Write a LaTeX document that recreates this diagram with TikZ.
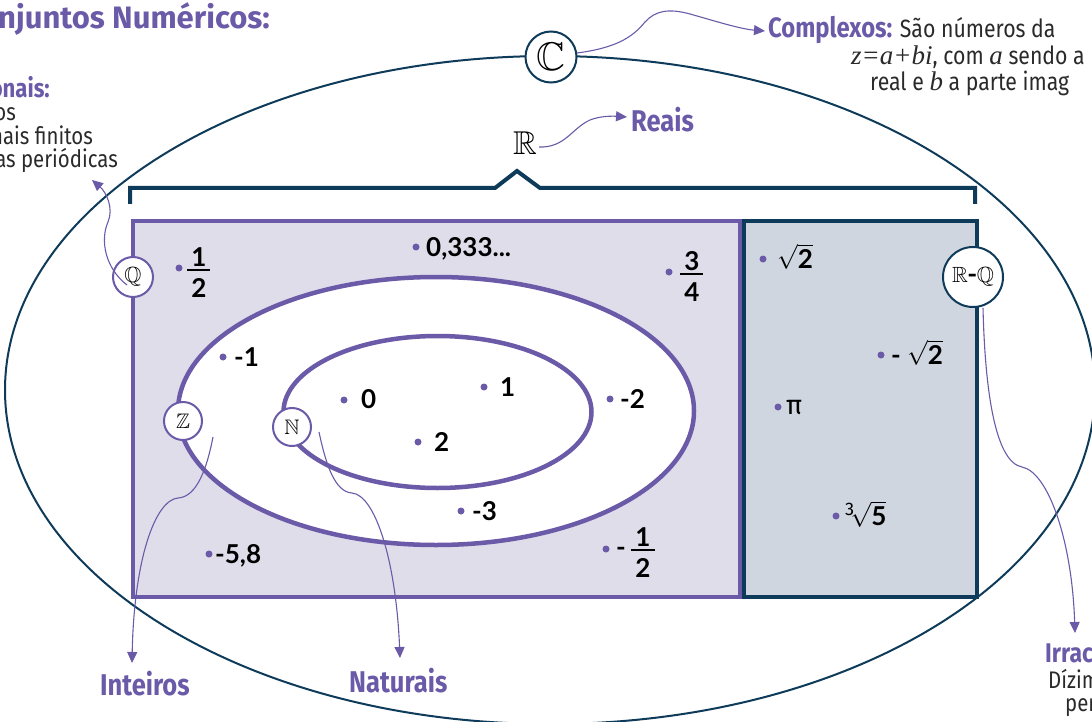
\documentclass[tikz,border=0pt]{standalone}
\usepackage{fontspec}
\usepackage{amsmath,amssymb}
\setmainfont{Fira Sans}
\newfontfamily\numfont{Lato}
\newfontfamily\condfont{Fira Sans}[FakeStretch=0.85]
\newfontfamily\serifit{Liberation Serif}
\usetikzlibrary{arrows.meta}
\definecolor{pur}{HTML}{6A5AA8}
\definecolor{navy}{HTML}{0F3B5A}
\definecolor{lav}{HTML}{DFDDEA}
\definecolor{bluegray}{HTML}{CFD6DF}
\definecolor{txt}{HTML}{2A2A2A}
\newcommand\fsz[1]{\fontsize{#1}{#1}\selectfont}
\newcommand\myfrac[2]{$\genfrac{}{}{2pt}{1}{\mbox{\hspace{4pt}#1\hspace{4pt}}}{\mbox{\rule{0pt}{25pt}#2}}$}
\begin{document}
\begin{tikzpicture}[x=1pt,y=-1pt,
  lbl/.style={inner sep=0pt,anchor=base west},
  lblr/.style={inner sep=0pt,anchor=base east},
  setring/.style={circle,draw=pur,line width=2pt,fill=white,inner sep=0pt},
  ptdot/.style={circle,fill=pur,inner sep=0pt,minimum size=7pt},
  numlbl/.style={inner sep=0pt,anchor=base west,font=\numfont\bfseries\fsz{26},text=black},
  callout/.style={draw=pur,line width=1.1pt,-{Triangle[length=11pt,width=10pt]}},
  ttl/.style={font=\bfseries\fsz{31},text=pur},
  headlbl/.style={font=\condfont\bfseries\fsz{30},text=pur},
  bodytxt/.style={font=\condfont\fsz{25},text=txt},
]
\useasboundingbox (0,0) rectangle (1092,722);
\clip (0,0) rectangle (1092,722);

% complex ellipse
\draw[navy,line width=2pt] (550,390) ellipse [x radius=545,y radius=334];

% bracket for R
\draw[navy,line width=4pt,line join=miter] (130,204) -- (130,188) -- (495,188) -- (517,171) -- (540,188) -- (975,188) -- (975,204);

% Q and R-Q regions
\draw[pur,line width=4pt,fill=lav] (133,221) rectangle (740,597);
\draw[navy,line width=4pt,fill=bluegray] (744,221) rectangle (977,597);

% Z and N ellipses
\draw[pur,line width=4.5pt,fill=white] (436,411) ellipse [x radius=258,y radius=134];
\draw[pur,line width=4.5pt,fill=white] (437.5,412) ellipse [x radius=154,y radius=76];

% points and numbers
\node[ptdot] (p1) at (179,268) {};
\node[numlbl] (t1) at (186,276) {\myfrac{1}{2}};
\node[ptdot] (p2) at (416,247) {};
\node[numlbl] (t2) at (426,256) {0,333...};
\node[ptdot] (p3) at (669,272) {};
\node[numlbl] (t3) at (679,280) {\myfrac{3}{4}};
\node[ptdot] (p4) at (223,357) {};
\node[numlbl] (t4) at (234,366) {-1};
\node[ptdot] (p5) at (344,400) {};
\node[numlbl] (t5) at (361,408) {0};
\node[ptdot] (p6) at (484,387) {};
\node[numlbl] (t6) at (500,396) {1};
\node[ptdot] (p7) at (418,442) {};
\node[numlbl] (t7) at (434,451) {2};
\node[ptdot] (p8) at (610,399) {};
\node[numlbl] (t8) at (620,408) {-2};
\node[ptdot] (p9) at (461,511) {};
\node[numlbl] (t9) at (472,520) {-3};
\node[ptdot] (p10) at (209,554) {};
\node[numlbl] (t10) at (215,563) {-5,8};
\node[ptdot] (p11) at (606,549) {};
\node[numlbl] (t11) at (616,556) {-\,\myfrac{1}{2}};
\node[ptdot] (p12) at (763,259) {};
\node[numlbl] (t12) at (777,268) {$\sqrt{\mbox{2}}$};
\node[ptdot] (p13) at (881,355) {};
\node[numlbl] (t13) at (891,364) {- $\sqrt{\mbox{2}}$};
\node[ptdot] (p14) at (778,407) {};
\node[numlbl,font=\fsz{27}] (t14) at (786,414) {π};
\node[ptdot] (p15) at (836,516) {};
\node[numlbl] (t15) at (845,525) {$^{\mathrm{3}}\!\sqrt{\mbox{5}}$};

% set symbols
\node[setring,draw=navy,minimum size=51pt] (C) at (551,57) {\fsz{40}$\mathbb{C}$};
\node[setring,minimum size=40pt] (Q) at (133,277) {\fsz{22}$\mathbb{Q}$};
\node[setring,minimum size=38pt] (Z) at (183,421) {\fsz{21}$\mathbb{Z}$};
\node[setring,minimum size=38pt] (N) at (292,427) {\fsz{21}$\mathbb{N}$};
\node[setring,draw=navy,minimum size=60pt] (RQ) at (973,277) {\fsz{22}$\mathbb{R}$\textbf{-}$\mathbb{Q}$};
\node[inner sep=0pt] (R) at (525,143) {\fsz{33}$\mathbb{R}$};

% texts
\node[lbl,ttl] (title) at (-2,29) {njuntos Numéricos:};
\node[lblr,font=\condfont\bfseries\fsz{26},text=pur] (rac) at (50,98) {onais:};
\node[lblr,bodytxt,font=\condfont\fsz{24}] (rac1) at (16,121) {os};
\node[lblr,bodytxt,font=\condfont\fsz{24}] (rac2) at (93,145) {nais finitos};
\node[lblr,bodytxt,font=\condfont\fsz{24}] (rac3) at (118,168) {as periódicas};
\node[lbl,bodytxt] (cx1) at (768,38) {{\fsz{28}\bfseries\color{pur}Complexos:} São números da};
\node[lbl,bodytxt] (cx2) at (851,65) {{\serifit\itshape\fsz{27}z=a+bi}, com {\serifit\itshape\fsz{27}a} sendo a};
\node[lbl,bodytxt] (cx3) at (870,91) {real e {\serifit\itshape\fsz{27}b} a parte imag};
\node[lbl,headlbl] (reais) at (631,132) {Reais};
\node[lbl,headlbl] (inteiros) at (100,695) {Inteiros};
\node[lbl,headlbl] (naturais) at (349,692) {Naturais};
\node[lbl,headlbl,font=\condfont\bfseries\fsz{27}] (irrac) at (1045,662) {Irrac};
\node[lbl,bodytxt,font=\condfont\fsz{24}] (irr1) at (1048,688) {Dízim};
\node[lbl,bodytxt,font=\condfont\fsz{24}] (irr2) at (1065,711) {per};

% callout arrows
\coordinate (cs) at (577,53);
\coordinate (ct) at (765,31);
\draw[callout] (cs) .. controls (615,48) and (632,38) .. (645,22) .. controls (655,11) and (668,8) .. (690,14) .. controls (715,21) and (740,29) .. (ct);
\coordinate (rs) at (539,147);
\coordinate (rt) at (627,117);
\draw[callout] (rs) .. controls (565,148) and (572,128) .. (590,120) .. controls (600,116) and (612,116) .. (rt);
\coordinate (qs) at (127,285);
\coordinate (qt) at (92,180);
\draw[callout] (qs) .. controls (105,268) and (100,240) .. (108,222) .. controls (114,208) and (106,192) .. (qt);
\coordinate (zs) at (213,437);
\coordinate (zt) at (132,663);
\draw[callout] (zs) .. controls (207,468) and (197,497) .. (178,498) .. controls (155,500) and (134,560) .. (zt);
\coordinate (ns) at (319,432);
\coordinate (nt) at (400,658);
\draw[callout] (ns) .. controls (326,465) and (335,492) .. (352,493) .. controls (375,495) and (396,560) .. (nt);
\coordinate (rqs) at (983,308);
\coordinate (rqt) at (1075,633);
\draw[callout] (rqs) .. controls (985,390) and (995,462) .. (1022,467) .. controls (1048,472) and (1072,540) .. (rqt);
\end{tikzpicture}
\end{document}
